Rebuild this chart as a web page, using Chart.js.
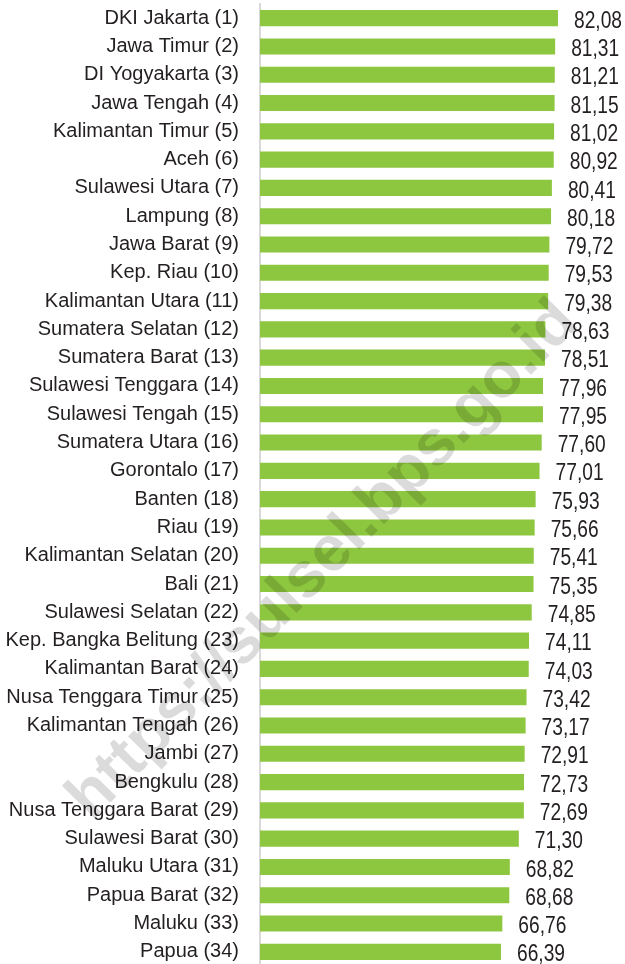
<!DOCTYPE html>
<html>
<head>
<meta charset="utf-8">
<script src="https://cdn.jsdelivr.net/npm/chart.js@4/dist/chart.umd.min.js"></script>
<style>
  html, body { margin: 0; padding: 0; background: #fff; overflow: hidden; }
  #wrap { width: 625px; height: 970px; }
</style>
</head>
<body>
<div id="wrap"><canvas id="ipm" width="625" height="970"></canvas></div>
<script>
const provinces = [
    'DKI Jakarta (1)', 'Jawa Timur (2)', 'DI Yogyakarta (3)', 'Jawa Tengah (4)',
    'Kalimantan Timur (5)', 'Aceh (6)', 'Sulawesi Utara (7)', 'Lampung (8)',
    'Jawa Barat (9)', 'Kep. Riau (10)', 'Kalimantan Utara (11)', 'Sumatera Selatan (12)',
    'Sumatera Barat (13)', 'Sulawesi Tenggara (14)', 'Sulawesi Tengah (15)', 'Sumatera Utara (16)',
    'Gorontalo (17)', 'Banten (18)', 'Riau (19)', 'Kalimantan Selatan (20)',
    'Bali (21)', 'Sulawesi Selatan (22)', 'Kep. Bangka Belitung (23)', 'Kalimantan Barat (24)',
    'Nusa Tenggara Timur (25)', 'Kalimantan Tengah (26)', 'Jambi (27)', 'Bengkulu (28)',
    'Nusa Tenggara Barat (29)', 'Sulawesi Barat (30)', 'Maluku Utara (31)', 'Papua Barat (32)',
    'Maluku (33)', 'Papua (34)'
];

const values = [
    82.08, 81.31, 81.21, 81.15, 81.02, 80.92, 80.41, 80.18,
    79.72, 79.53, 79.38, 78.63, 78.51, 77.96, 77.95, 77.60,
    77.01, 75.93, 75.66, 75.41, 75.35, 74.85, 74.11, 74.03,
    73.42, 73.17, 72.91, 72.73, 72.69, 71.30, 68.82, 68.68,
    66.76, 66.39
];

const watermark = 'https://sulsel.bps.go.id';

const textColor = '#231f20';
const barColor = '#8dc63f';

// numbers use a decimal comma, drawn a bit condensed
const valueLabels = {
    id: 'valueLabels',
    afterDatasetsDraw(chart) {
        const ctx = chart.ctx;
        const meta = chart.getDatasetMeta(0);
        ctx.save();
        ctx.font = '24px "Liberation Sans", Arial, sans-serif';
        ctx.fillStyle = textColor;
        ctx.textAlign = 'left';
        ctx.textBaseline = 'middle';
        meta.data.forEach((bar, i) => {
            const txt = values[i].toFixed(2).replace('.', ',');
            ctx.save();
            ctx.translate(bar.x + 16, bar.y + 3);
            ctx.scale(0.8, 1);
            ctx.fillText(txt, 0, 0);
            ctx.restore();
        });
        ctx.restore();
    }
};

const stamp = {
    id: 'stamp',
    afterDraw(chart) {
        const ctx = chart.ctx;
        ctx.save();
        ctx.translate(336, 573);
        ctx.rotate(-45.5 * Math.PI / 180);
        ctx.font = 'bold 64px "Liberation Sans", Arial, sans-serif';
        ctx.fillStyle = 'rgba(0,0,0,0.14)';
        ctx.textAlign = 'center';
        ctx.textBaseline = 'alphabetic';
        ctx.fillText(watermark, 0, 0);
        ctx.restore();
    }
};

new Chart(document.getElementById('ipm').getContext('2d'), {
    type: 'bar',
    data: {
        labels: provinces,
        datasets: [{
            data: values,
            backgroundColor: barColor,
            borderWidth: 0,
            categoryPercentage: 1,
            barPercentage: 0.57
        }]
    },
    options: {
        indexAxis: 'y',
        responsive: false,
        animation: false,
        devicePixelRatio: 1,
        layout: { padding: { top: 4, bottom: 4, left: 0, right: 2 } },
        plugins: {
            legend: { display: false },
            tooltip: { enabled: false }
        },
        scales: {
            x: {
                display: false,
                min: 0,
                max: 100
            },
            y: {
                afterFit: scale => {
                    scale.width = 260;
                    // the rows fill the full height, no extra room for the end labels
                    scale.paddingTop = 0;
                    scale.paddingBottom = 0;
                },
                grid: { display: false, drawTicks: false },
                border: { display: true, color: '#d9d9d9', width: 2 },
                ticks: {
                    color: textColor,
                    padding: 21,
                    autoSkip: false,
                    font: { family: '"Liberation Sans", Arial, sans-serif', size: 20 }
                }
            }
        }
    },
    plugins: [valueLabels, stamp]
});
</script>
</body>
</html>
